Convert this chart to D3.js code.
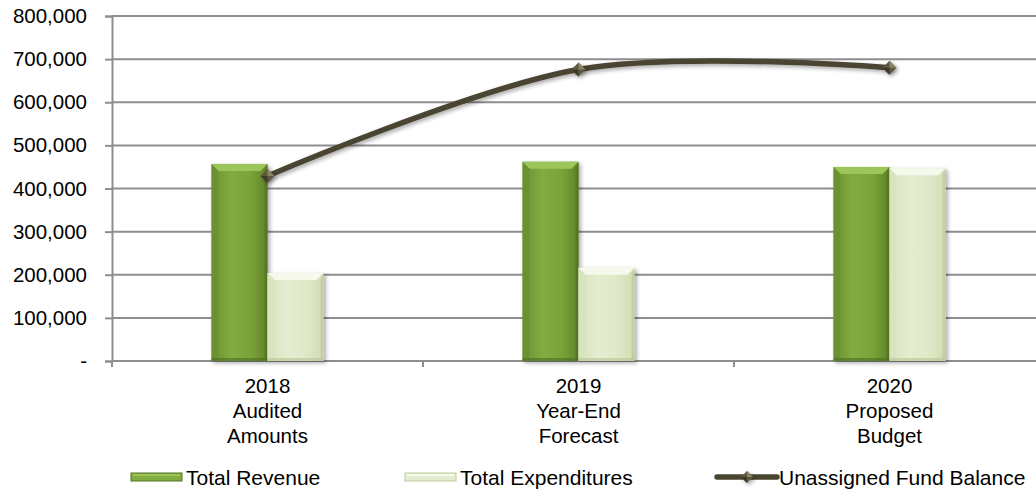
<!DOCTYPE html>
<html>
<head>
<meta charset="utf-8">
<script src="https://cdn.jsdelivr.net/npm/d3@7"></script>
<style>
  html, body { margin: 0; padding: 0; background: #ffffff; }
  svg { display: block; font-family: "Liberation Sans", Arial, sans-serif; }
</style>
</head>
<body>
<svg id="chart" width="1036" height="494"></svg>
<script>
// Fund summary: revenue and expenditures as bars, fund balance as a smoothed line
const categories = ["2018|Audited|Amounts", "2019|Year-End|Forecast", "2020|Proposed|Budget"];
const seriesNames = ["Total Revenue", "Total Expenditures", "Unassigned Fund Balance"];
const totalRevenue = [457000, 462000, 450000];
const totalExpenditures = [204000, 216000, 447000];
const fundBalance = [429000, 676000, 680000];
const yTicks = [0, 100000, 200000, 300000, 400000, 500000, 600000, 700000, 800000];

const svg = d3.select("#chart");
const W = 1036, H = 494;
const margin = { left: 112, top: 16, bottom: 133 };
const plotBottom = H - margin.bottom;   // 361

const x = d3.scaleBand().domain(categories).range([margin.left, margin.left + 933]).padding(0);
const barW = x.bandwidth() * 0.18;
const x1 = d3.scaleBand().domain(seriesNames.slice(0, 2)).range([-barW, barW]).padding(0);
const y = d3.scaleLinear().domain([0, 800000]).range([plotBottom, margin.top]);

const defs = svg.append("defs");

// soft drop shadow for bars and line
const sh = defs.append("filter").attr("id", "shadow").attr("x", "-20%").attr("y", "-20%").attr("width", "150%").attr("height", "150%");
sh.append("feGaussianBlur").attr("in", "SourceAlpha").attr("stdDeviation", 2.2);
sh.append("feOffset").attr("dx", 2).attr("dy", 2).attr("result", "ob");
sh.append("feComponentTransfer").append("feFuncA").attr("type", "linear").attr("slope", 0.35);
const m = sh.append("feMerge");
m.append("feMergeNode");
m.append("feMergeNode").attr("in", "SourceGraphic");

const palettes = {
  "Total Revenue": { body: ["#6a9130", "#82ac42", "#7aa33a", "#5f8428"], top: "#9cc55a", side: "#557524", bottom: "#4e6c20" },
  "Total Expenditures": { body: ["#d7e3bd", "#e4edcf", "#dfe9c8", "#cfdcb2"], top: "#f6faec", side: "#bfcc9f", bottom: "#b5c394" }
};
Object.entries(palettes).forEach(([name, p], i) => {
  const g = defs.append("linearGradient").attr("id", "grad" + i).attr("x1", 0).attr("x2", 1).attr("y1", 0).attr("y2", 0);
  p.body.forEach((c, k) => g.append("stop").attr("offset", [0, 0.35, 0.7, 1][k]).attr("stop-color", c));
  p.id = "grad" + i;
});

// grid lines
svg.append("g").selectAll("line").data(yTicks.slice(1)).join("line")
  .attr("x1", margin.left).attr("x2", W)
  .attr("y1", d => y(d)).attr("y2", d => y(d))
  .attr("stroke", "#8e8e8e").attr("stroke-width", 2);

// y axis
const yAxis = d3.axisLeft(y).tickValues(yTicks).tickSize(7).tickPadding(18)
  .tickFormat(d => d === 0 ? "-" : d3.format(",")(d));
const ya = svg.append("g").attr("transform", `translate(${margin.left},0)`).call(yAxis);
ya.select(".domain").attr("stroke", "#8e8e8e").attr("stroke-width", 2);
ya.selectAll(".tick line").attr("stroke", "#8e8e8e").attr("stroke-width", 2);
ya.selectAll(".tick text").attr("font-size", 20.5).attr("fill", "#000").attr("font-family", "Liberation Sans, Arial, sans-serif");

// x axis with ticks on the category boundaries
svg.append("line").attr("x1", margin.left).attr("x2", W).attr("y1", plotBottom).attr("y2", plotBottom)
  .attr("stroke", "#8e8e8e").attr("stroke-width", 2);
svg.append("g").selectAll("line").data(categories.map(c => x(c)).concat([x.range()[1]])).join("line")
  .attr("x1", d => d).attr("x2", d => d).attr("y1", plotBottom).attr("y2", plotBottom + 6)
  .attr("stroke", "#8e8e8e").attr("stroke-width", 2);

const catLabels = svg.append("g").selectAll("text").data(categories).join("text")
  .attr("x", d => x(d) + x.bandwidth() / 2).attr("y", plotBottom + 32)
  .attr("text-anchor", "middle").attr("font-size", 20.5).attr("fill", "#000");
catLabels.each(function (d) {
  d3.select(this).selectAll("tspan").data(d.split("|")).join("tspan")
    .attr("x", x(d) + x.bandwidth() / 2).attr("dy", (t, i) => i === 0 ? 0 : 25).text(t => t);
});

// beveled bar drawing
function bevelBar(g, x0, w, yTop, yBot, p) {
  const b = Math.min(7, w / 4);
  const grp = g.append("g").attr("filter", "url(#shadow)");
  grp.append("rect").attr("x", x0).attr("y", yTop).attr("width", w).attr("height", yBot - yTop).attr("fill", `url(#${p.id})`);
  grp.append("polygon").attr("points", [[x0, yTop], [x0 + w, yTop], [x0 + w - b, yTop + b], [x0 + b, yTop + b]].join(" ")).attr("fill", p.top);
  grp.append("polygon").attr("points", [[x0, yTop], [x0 + b, yTop + b], [x0 + b, yBot - 2], [x0, yBot]].join(" ")).attr("fill", p.body[0]).attr("opacity", 0.8);
  grp.append("polygon").attr("points", [[x0 + w, yTop], [x0 + w - 3, yTop + b], [x0 + w - 3, yBot - 2], [x0 + w, yBot]].join(" ")).attr("fill", p.side).attr("opacity", 0.8);
  grp.append("rect").attr("x", x0).attr("y", yBot - 3).attr("width", w).attr("height", 3).attr("fill", p.bottom).attr("opacity", 0.6);
}

const barsG = svg.append("g");
const barData = [totalRevenue, totalExpenditures];
categories.forEach((c, i) => {
  seriesNames.slice(0, 2).forEach((s, k) => {
    const cx = x(c) + x.bandwidth() / 2;
    bevelBar(barsG, cx + x1(s), x1.bandwidth(), y(barData[k][i]), y(0), palettes[s]);
  });
});

// smoothed fund balance line
const lineGen = d3.line()
  .x((d, i) => x(categories[i]) + x.bandwidth() / 2)
  .y(d => y(d))
  .curve(d3.curveCardinal.tension(0));
svg.append("path").datum(fundBalance).attr("d", lineGen)
  .attr("fill", "none").attr("stroke", "#4a4530").attr("stroke-width", 5.5)
  .attr("stroke-linecap", "round").attr("filter", "url(#shadow)");

function diamond(g, cx, cy, r) {
  const grp = g.append("g").attr("filter", "url(#shadow)");
  grp.append("polygon").attr("points", [[cx, cy - r], [cx + r, cy], [cx, cy + r], [cx - r, cy]].join(" ")).attr("fill", "#5e5940");
  grp.append("polygon").attr("points", [[cx, cy - r], [cx + r, cy], [cx, cy]].join(" ")).attr("fill", "#8a8466");
  grp.append("polygon").attr("points", [[cx, cy], [cx, cy + r], [cx - r, cy]].join(" ")).attr("fill", "#3e3a28");
}
const markers = svg.append("g");
fundBalance.forEach((v, i) => diamond(markers, x(categories[i]) + x.bandwidth() / 2, y(v), 7));

// legend
const legY = 477;
const leg = svg.append("g").attr("font-size", 21).attr("fill", "#000");
const legItems = [
  { name: seriesNames[0], x: 131, kind: "bar", p: palettes[seriesNames[0]] },
  { name: seriesNames[1], x: 405, kind: "bar", p: palettes[seriesNames[1]] },
  { name: seriesNames[2], x: 717, kind: "line" }
];
legItems.forEach(it => {
  if (it.kind === "bar") {
    leg.append("rect").attr("x", it.x).attr("y", legY - 4).attr("width", 51).attr("height", 8).attr("fill", it.p.body[1]).attr("stroke", it.p.side).attr("stroke-width", 1);
    leg.append("rect").attr("x", it.x + 2).attr("y", legY - 3).attr("width", 47).attr("height", 2).attr("fill", it.p.top);
    leg.append("text").attr("x", it.x + 55).attr("y", legY + 8).text(it.name);
  } else {
    leg.append("line").attr("x1", it.x).attr("x2", it.x + 60).attr("y1", legY).attr("y2", legY)
      .attr("stroke", "#4a4530").attr("stroke-width", 5.5).attr("stroke-linecap", "round");
    diamond(leg, it.x + 30, legY, 6);
    leg.append("text").attr("x", it.x + 62).attr("y", legY + 8).text(it.name);
  }
});
</script>
</body>
</html>
